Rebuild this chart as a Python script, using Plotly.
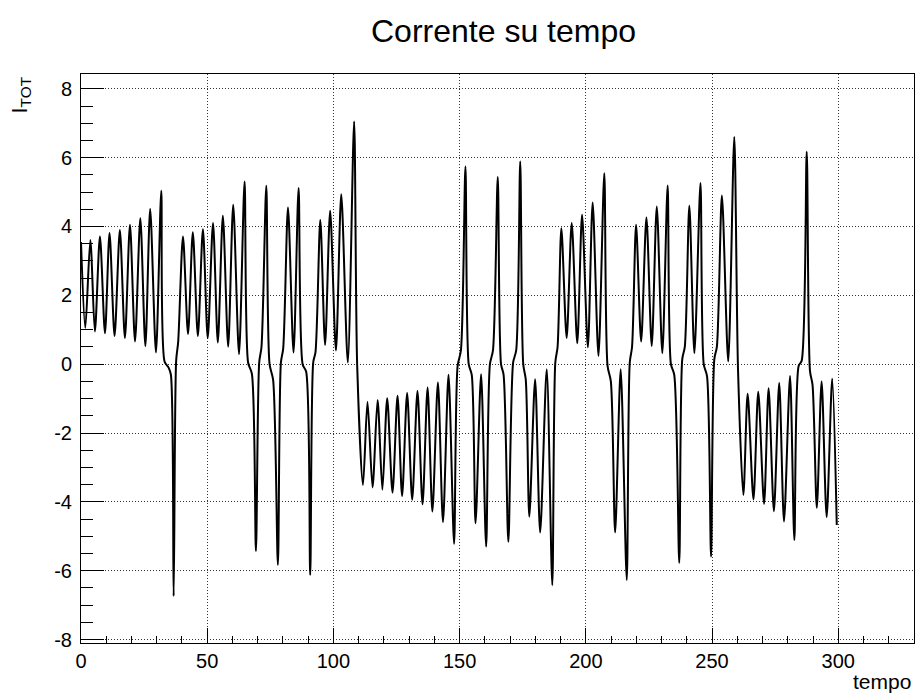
import plotly.graph_objects as go

# ---- data (time, total current) ----
tempo = [
    0.0, 1.7, 3.7, 5.5, 7.5, 9.5, 11.3, 13.3, 15.4, 17.4, 19.4, 21.4, 23.5, 25.5, 27.4, 29.7, 31.8,
    33.1, 34.7, 35.6, 36.7, 37.7, 38.5, 40.4, 42.4, 44.3, 46.3, 48.3, 50.2, 52.3, 54.2, 56.2, 58.3,
    60.3, 62.6, 64.8, 66.2, 67.7, 69.3, 70.6, 71.5, 73.4, 74.7, 76.1, 78.0, 79.2, 80.1, 82.0, 84.2,
    86.2, 87.8, 89.2, 90.8, 92.0, 92.9, 94.8, 96.7, 98.7, 101.0, 103.1, 105.7, 108.2, 109.4, 111.7,
    113.5, 115.5, 117.5, 119.4, 121.3, 123.4, 125.4, 127.2, 129.2, 131.2, 133.3, 135.3, 137.3, 139.2,
    141.4, 143.4, 145.6, 147.8, 149.2, 150.5, 152.3, 153.6, 154.8, 156.3, 158.5, 160.5, 162.0, 163.2,
    165.1, 166.4, 167.4, 169.3, 171.2, 172.4, 174.0, 175.2, 176.2, 177.6, 179.9, 181.9, 184.5, 186.7,
    187.9, 188.8, 190.3, 192.4, 194.4, 196.6, 198.5, 200.8, 202.7, 205.0, 207.3, 208.6, 209.9, 211.6,
    213.8, 216.2, 217.4, 218.3, 219.9, 221.9, 224.0, 226.1, 228.1, 230.3, 232.4, 233.7, 235.0, 237.0,
    238.2, 239.2, 241.0, 243.0, 245.4, 246.7, 248.0, 249.6, 250.9, 251.9, 253.9, 256.4, 258.8, 260.3,
    262.4, 264.1, 266.4, 268.3, 270.6, 272.4, 274.5, 276.6, 278.5, 280.9, 282.6, 284.3, 285.5, 287.5,
    288.8, 289.8, 291.5, 293.4, 295.4, 297.6, 299.4,
]
corrente = [
    3.55, 1.05, 3.61, 0.95, 3.71, 0.90, 3.81, 0.82, 3.90, 0.76, 4.05, 0.66, 4.24, 0.53, 4.51, 0.34, 5.04,
    0.08, -0.10, -0.30, -6.74, 0.10, 0.65, 3.71, 0.88, 3.83, 0.82, 3.92, 0.76, 4.10, 0.63, 4.31, 0.51,
    4.63, 0.29, 5.31, 0.05, -0.28, -5.43, 0.05, 0.50, 5.18, 0.00, -0.45, -5.83, 0.05, 0.45, 4.55, 0.34,
    5.12, 0.00, -0.22, -6.12, 0.05, 0.35, 4.19, 0.56, 4.46, 0.40, 4.94, 0.05, 7.05, 0.00, -3.51,
    -1.09, -3.58, -1.04, -3.65, -0.99, -3.73, -0.92, -3.83, -0.84, -3.94, -0.78, -4.07, -0.68, -4.28,
    -0.53, -4.59, -0.31, -5.22, -0.05, 0.40, 5.74, 0.00, -0.31, -4.62, -0.29, -5.30, 0.00, 0.40,
    5.44, 0.00, -0.30, -5.16, 0.05, 0.40, 5.89, 0.00, -0.45, -4.43, -0.44, -4.89, -0.15, -6.42,
    0.05, 0.50, 3.95, 0.76, 4.10, 0.61, 4.34, 0.49, 4.70, 0.24, 5.55, -0.05, -0.50, -4.89,
    -0.15, -6.27, 0.05, 0.50, 4.05, 0.66, 4.26, 0.53, 4.58, 0.32, 5.19, 0.00, -0.30, -5.77,
    0.15, 0.50, 4.60, 0.32, 5.26, 0.00, -0.35, -5.59, 0.15, 0.50, 4.90, 0.08, 6.60, -0.20,
    -3.80, -0.86, -3.93, -0.80, -4.06, -0.70, -4.27, -0.55, -4.57, -0.34, -5.11, -0.05, 0.10, 6.17,
    -0.20, -0.60, -4.17, -0.50, -4.44, -0.42, -4.67,
]

x_tick_vals = [0, 50, 100, 150, 200, 250, 300]
x_tick_text = ["0", "50", "100", "150", "200", "250", "300"]
y_tick_vals = [-8, -6, -4, -2, 0, 2, 4, 6, 8]
y_tick_text = ["-8", "-6", "-4", "-2", "0", "2", "4", "6", "8"]

titolo = "Corrente su tempo"
titolo_x = "tempo"
titolo_y = "I<sub>TOT</sub>"

# ---- layout geometry ----
W, H = 917, 697
L, R, T, B = 81, 3, 74, 54
PW, PH = W - L - R, H - T - B


def paper_x(px):
    return (px - L) / PW


def paper_y(py):
    return (H - B - py) / PH


FONT = "Liberation Sans, Arial, Helvetica, sans-serif"

fig = go.Figure(
    go.Scatter(
        x=tempo,
        y=corrente,
        mode="lines",
        line=dict(color="black", width=2, shape="spline", smoothing=0.8),
        hoverinfo="skip",
    )
)

axis_common = dict(
    showline=True,
    mirror=True,
    linecolor="black",
    linewidth=1,
    ticks="inside",
    tickcolor="black",
    tickwidth=1,
    showgrid=True,
    gridcolor="#333333",
    griddash="1px,2px",
    gridwidth=1,
    zeroline=False,
    tickmode="array",
    tickfont=dict(family=FONT, size=20, color="black"),
)

fig.update_xaxes(
    **axis_common,
    range=[0, 330],
    tickvals=x_tick_vals,
    ticktext=x_tick_text,
    ticklen=15,
    minor=dict(dtick=10, tick0=0, ticks="inside", ticklen=7, tickcolor="black", showgrid=False),
)
fig.update_yaxes(
    **axis_common,
    range=[-8.1, 8.43],
    tickvals=y_tick_vals,
    ticktext=y_tick_text,
    ticklen=23,
    ticklabelstandoff=4,
    minor=dict(dtick=0.5, tick0=0, ticks="inside", ticklen=12, tickcolor="black", showgrid=False),
)

fig.update_layout(
    width=W,
    height=H,
    margin=dict(l=L, r=R, t=T, b=B),
    paper_bgcolor="white",
    plot_bgcolor="white",
    showlegend=False,
    font=dict(family=FONT, size=20, color="black"),
    annotations=[
        dict(text=titolo, xref="paper", yref="paper", x=paper_x(504), y=paper_y(31),
             xanchor="center", yanchor="middle", showarrow=False,
             font=dict(family=FONT, size=32, color="black")),
        dict(text=titolo_x, xref="paper", yref="paper", x=paper_x(913), y=paper_y(681),
             xanchor="right", yanchor="middle", showarrow=False,
             font=dict(family=FONT, size=21, color="black")),
        dict(text=titolo_y, xref="paper", yref="paper", x=paper_x(21), y=paper_y(75),
             xanchor="center", yanchor="top", textangle=-90, showarrow=False,
             font=dict(family=FONT, size=22, color="black")),
    ],
)

fig.write_html("out.html")
